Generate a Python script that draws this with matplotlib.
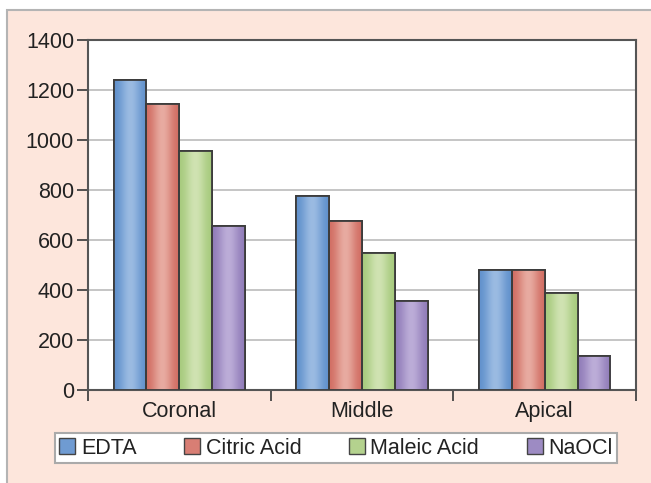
import numpy as np
import matplotlib
matplotlib.use("Agg")
import matplotlib.pyplot as plt
from matplotlib.patches import Rectangle
from matplotlib.colors import to_rgb

categories = ["Coronal", "Middle", "Apical"]
series = ["EDTA", "Citric Acid", "Maleic Acid", "NaOCl"]
edta = [1240, 775, 482]
citric = [1145, 675, 482]
maleic = [957, 550, 390]
naocl = [655, 357, 137]
values = [edta, citric, maleic, naocl]
yticks = [0, 200, 400, 600, 800, 1000, 1200, 1400]

dark_cols = ["#5b8dca", "#cf685d", "#a3c878", "#8d78b6"]
light_cols = ["#9bbbe2", "#e8aba1", "#d0e3b2", "#bcadd8"]
mid_cols = ["#6f9bd2", "#d87e74", "#b4d28e", "#9d8bc3"]

plt.rcParams['font.family'] = ['Liberation Sans', 'DejaVu Sans']
fs = 15.5

fig = plt.figure(figsize=(6.51, 4.83), dpi=100)
fig.patch.set_facecolor("white")
# outer panel
panel = Rectangle((7 / 651, -0.05), 1.1, 1 - 10 / 483 + 0.05, transform=fig.transFigure,
                  facecolor="#fde6dc", edgecolor="#b4b4b4", linewidth=1.5, zorder=-5)
fig.patches.append(panel)

ax = fig.add_axes([88 / 651, 1 - 390 / 483, (636 - 88) / 651, (390 - 40) / 483])
ax.set_zorder(2)
ax.set_facecolor("white")

x = np.arange(len(categories))
w = 0.18
t = np.linspace(0, 1, 64)
prof = np.exp(-((t - 0.5) / 0.32) ** 2)
for i, (vals, dc, lc) in enumerate(zip(values, dark_cols, light_cols)):
    pos = x + (i - 1.5) * w
    bars = ax.bar(pos, vals, width=w, color=dc, edgecolor="#3c3c3c", linewidth=1.3,
                  zorder=3, label=series[i])
    d = np.array(to_rgb(dc)); l = np.array(to_rgb(lc))
    grad = d[None, :] + (l - d)[None, :] * prof[:, None]
    img = grad[None, :, :]
    for r in bars:
        x0, y0 = r.get_x(), r.get_y()
        im = ax.imshow(img, extent=(x0, x0 + r.get_width(), y0, y0 + r.get_height()),
                       aspect="auto", zorder=3.5, interpolation="bilinear")
        im.set_clip_path(r)
        r2 = Rectangle((x0, y0), r.get_width(), r.get_height(), facecolor="none",
                       edgecolor="#3c3c3c", linewidth=1.3, zorder=4)
        ax.add_patch(r2)

ax.set_xlim(-0.5, 2.5)
ax.set_ylim(0, 1400)
ax.set_yticks(yticks)
ax.set_yticklabels([str(v) for v in yticks], fontsize=fs, color="#222222")
ax.yaxis.grid(True, color="#c0c0c0", linewidth=1.3, zorder=1)
ax.set_axisbelow(True)
ax.set_xticks(x)
ax.set_xticklabels(categories, fontsize=fs, color="#222222")
ax.set_xticks([-0.5, 0.5, 1.5, 2.5], minor=True)
ax.tick_params(axis="x", which="major", length=0, pad=8)
ax.tick_params(axis="x", which="minor", length=8, width=1.3, color="#444444", direction="out")
ax.tick_params(axis="y", length=8, width=1.3, color="#444444", direction="out", pad=2)
for s in ax.spines.values():
    s.set_color("#555555")
    s.set_linewidth(1.5)

handles = [Rectangle((0, 0), 1, 1, facecolor=mc, edgecolor="#444444", linewidth=1.0)
           for mc in mid_cols]
leg = fig.legend(handles, series, loc="lower left",
                 bbox_to_anchor=(55 / 651, 1 - 463 / 483, (617 - 55) / 651, 31 / 483),
                 ncol=4, mode="expand", fontsize=fs, frameon=True, fancybox=False,
                 handlelength=0.75, handleheight=0.75, handletextpad=0.25,
                 borderaxespad=0, borderpad=0.2, framealpha=1)
leg.get_frame().set_edgecolor("#aaaaaa")
leg.get_frame().set_linewidth(1.5)
for txt in leg.get_texts():
    txt.set_color("#222222")

fig.savefig("out.png", dpi=100, facecolor=fig.get_facecolor())
